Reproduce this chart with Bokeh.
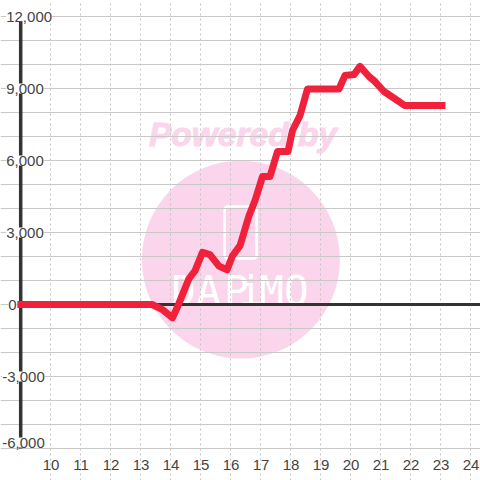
from bokeh.plotting import figure
from bokeh.embed import file_html
from bokeh.resources import INLINE
from bokeh.models import ColumnDataSource, LabelSet, FixedTicker, Range1d
from bokeh.core.properties import value

hours = [8.88, 13.37, 13.7, 14.05, 14.2, 14.6, 14.8, 15.05, 15.3, 15.6, 15.87, 16.05, 16.3, 16.6, 16.8, 17.05, 17.3, 17.55, 17.9, 18.05, 18.3, 18.55, 19.6, 19.8, 20.1, 20.3, 20.6, 20.8, 21.1, 21.4, 21.8, 23.15]
values = [0, 0, -200, -550, -150, 1080, 1400, 2170, 2080, 1600, 1450, 2030, 2450, 3700, 4330, 5330, 5330, 6380, 6380, 7250, 7870, 8980, 8980, 9540, 9580, 9920, 9500, 9290, 8875, 8625, 8290, 8290]
x_ticks = list(range(10, 25))
y_major = [-6000, -3000, 0, 3000, 6000, 9000, 12000]
y_minor = list(range(-6000, 12001, 1000))
y_labels = ["-6,000", "-3,000", "0", "3,000", "6,000", "9,000", "12,000"]
letters = list("DAPiMO")
letter_x = [14.42, 15.25, 16.18, 16.65, 17.35, 18.18]

AXIS_X = 8.99
p = figure(frame_width=480, frame_height=480, output_backend="svg", toolbar_location=None,
           x_range=Range1d(8.317, 24.317), y_range=Range1d(-7333, 12667),
           min_border_left=0, min_border_right=0, min_border_top=0, min_border_bottom=0,
           outline_line_color=None, background_fill_color="white", border_fill_color="white")
p.yaxis.visible = False
ax = p.xaxis[0]
ax.ticker = FixedTicker(ticks=x_ticks)
ax.fixed_location = -6000
ax.axis_line_color = None
ax.major_tick_line_color = None
ax.minor_tick_line_color = None
ax.major_label_text_font = "Liberation Sans"
ax.major_label_text_font_size = "15px"
ax.major_label_text_color = "#444444"
ax.major_label_standoff = 5

g = p.xgrid[0]
g.ticker = FixedTicker(ticks=x_ticks)
g.grid_line_color = "#c4c4c4"
g.grid_line_dash = "2 3"
g.grid_line_width = 1
g.bounds = (-6000, 12000)
h = p.ygrid[0]
h.ticker = FixedTicker(ticks=y_minor)
h.grid_line_color = "#c8c8c8"
h.grid_line_width = 1
h.bounds = (AXIS_X, 24.4)
for gr in (g, h):
    gr.level = "underlay"

# watermark
p.circle([16.33], [1870], radius=99, radius_units="screen", fill_color="#fbd5ec", line_color=None, level="image")
p.rect([16.32], [3000], width=32, height=52, width_units="screen", height_units="screen",
       fill_color=None, line_color="white", line_width=2.5, border_radius=3, level="image")
p.text([16.4], [7100], text=["Powered by"], text_font=value("Liberation Sans"), text_font_style="bold italic",
       text_font_size="33.5px", text_color="#fbd5ec", text_outline_color="#fbd5ec",
       text_align="center", text_baseline="middle", level="image")
p.text(letter_x, [550] * 6, text=letters, text_font=value("DejaVu Sans Mono"),
       text_font_size="41px", text_color="white", text_align="center", text_baseline="middle", level="image")

# axis lines
p.line([AXIS_X, 24.4], [0, 0], line_color="#333333", line_width=3)
p.line([AXIS_X, AXIS_X], [-6000, 12000], line_color="#333333", line_width=3.5)

# series
p.line(hours, values, line_color="#f0213a", line_width=7, line_join="round", line_cap="butt")

# y tick labels with white backing that interrupts the axis line
offs = [(-18.5 if v < 0 else (-12.5 if v == 0 else -14.5)) for v in y_major]
y_offs = [6 if v == -6000 else 0 for v in y_major]
src = ColumnDataSource(dict(x=[AXIS_X] * len(y_major), y=y_major, t=y_labels, o=offs, d=y_offs))
p.add_layout(LabelSet(x="x", y="y", text="t", x_offset="o", y_offset="d", source=src,
                      text_font=value("Liberation Sans"), text_font_size="15px", text_color="#444444",
                      text_align="left", text_baseline="middle",
                      background_fill_color="white"))

open("out.html", "w").write(file_html(p, INLINE))
